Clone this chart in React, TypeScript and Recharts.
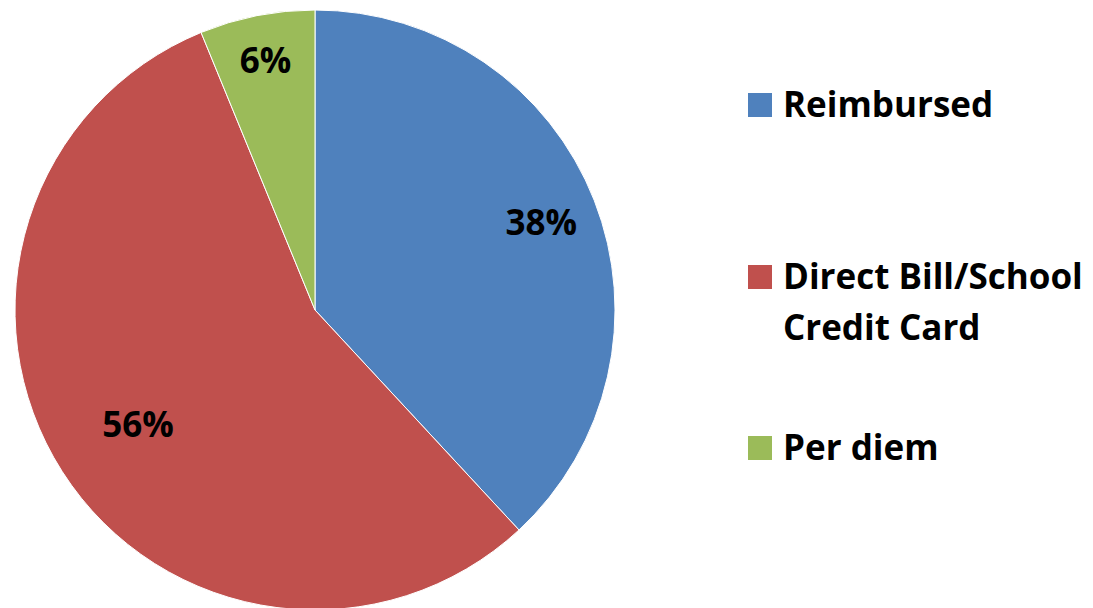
import { PieChart, Pie, Cell, Legend } from 'recharts';

const categories = ['Reimbursed', 'Direct Bill/School Credit Card', 'Per diem'];
const shares = [38.1, 55.7, 6.2];
const sliceColors = ['#4F81BD', '#C0504D', '#9BBB59'];

// how far out (fraction of radius) each percentage label sits
const labelRadius = [0.81, 0.7, 0.85];

const data = categories.map((name, i) => ({ name, value: shares[i] }));

const RADIAN = Math.PI / 180;
const FONT = '"Open Sans", "Liberation Sans", sans-serif';

function renderLabel(props: any) {
  const { cx, cy, midAngle, outerRadius, index, value } = props;
  const r = outerRadius * labelRadius[index];
  const x = cx + r * Math.cos(-midAngle * RADIAN);
  const y = cy + r * Math.sin(-midAngle * RADIAN);
  return (
    <text
      x={x}
      y={y}
      fill="#000"
      textAnchor="middle"
      dominantBaseline="central"
      fontFamily={FONT}
      fontWeight={700}
      fontSize={35}
    >
      {`${Math.round(value)}%`}
    </text>
  );
}

const legendTops = [78, 250, 421];
const legendLines = [['Reimbursed'], ['Direct Bill/School', 'Credit Card'], ['Per diem']];

function renderLegend() {
  return (
    <div style={{ position: 'relative', width: 345, height: 608 }}>
      {categories.map((name, i) => (
        <div
          key={name}
          style={{
            position: 'absolute',
            top: legendTops[i],
            left: 0,
            display: 'flex',
            alignItems: 'flex-start',
            fontFamily: FONT,
            fontWeight: 700,
            fontSize: 35,
            lineHeight: '51px',
            color: '#000',
            whiteSpace: 'nowrap',
          }}
        >
          <span
            style={{
              display: 'inline-block',
              width: 24,
              height: 24,
              background: sliceColors[i],
              marginTop: 15,
              marginRight: 11,
            }}
          />
          <div>
            {legendLines[i].map((line) => (
              <div key={line}>{line}</div>
            ))}
          </div>
        </div>
      ))}
    </div>
  );
}

export default function App() {
  return (
    <div style={{ position: 'absolute', left: 0, top: 0, width: 1093, height: 608, background: '#fff' }}>
      <PieChart width={1093} height={608} margin={{ top: 0, right: 0, bottom: 0, left: 0 }}>
        <Pie
          data={data}
          dataKey="value"
          nameKey="name"
          cx={315}
          cy={310}
          outerRadius={300}
          startAngle={90}
          endAngle={-270}
          stroke="#ffffff"
          strokeWidth={1}
          label={renderLabel}
          labelLine={false}
          isAnimationActive={false}
        >
          {data.map((d, i) => (
            <Cell key={d.name} fill={sliceColors[i]} />
          ))}
        </Pie>
        <Legend
          content={renderLegend}
          wrapperStyle={{ position: 'absolute', left: 748, top: 0, width: 345, height: 608 }}
        />
      </PieChart>
    </div>
  );
}
